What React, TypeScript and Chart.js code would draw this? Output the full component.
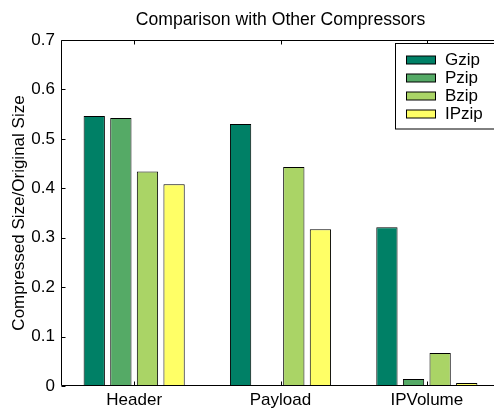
import React, { useEffect, useRef } from "react";
import { Chart, registerables } from "chart.js";

Chart.register(...registerables);

// Data
const categories = ["Header", "Payload", "IPVolume"];
const seriesNames = ["Gzip", "Pzip", "Bzip", "IPzip"];
const gzipValues = [0.546, 0.53, 0.321];
const pzipValues = [0.542, 0.002, 0.014];
const bzipValues = [0.434, 0.443, 0.067];
const ipzipValues = [0.408, 0.317, 0.006];
const seriesColors = ["#008066", "#55AA66", "#AAD466", "#FFFF66"];
const yMin = 0;
const yMax = 0.7;
const yStep = 0.1;

const titleText = "Comparison with Other Compressors";
const yLabelText = "Compressed Size/Original Size";
const FONT = '"Liberation Sans", Arial, Helvetica, sans-serif';
const FONT_SIZE = 17;
const TITLE_SIZE = 17.6;

// Draws the axes box with inward ticks, the title, the y-axis label and the legend.
const framePlugin = {
  id: "frame",
  afterDraw(chart: any) {
    const { ctx, chartArea: a, scales } = chart;
    const xs = scales.x;
    const ys = scales.y;
    ctx.save();
    ctx.strokeStyle = "#000";
    ctx.lineWidth = 1;
    const L = Math.round(a.left) + 0.5;
    const R = Math.round(a.right) - 0.5;
    const T = Math.round(a.top) + 0.5;
    const B = Math.round(a.bottom) - 0.5;
    ctx.beginPath();
    ctx.rect(L, T, R - L, B - T);
    ys.ticks.forEach((t: any) => {
      const py = Math.round(ys.getPixelForValue(t.value)) + 0.5;
      ctx.moveTo(L, py);
      ctx.lineTo(L + 4, py);
      ctx.moveTo(R, py);
      ctx.lineTo(R - 4, py);
    });
    categories.forEach((_, i) => {
      const px = Math.round(xs.getPixelForValue(i)) + 0.5;
      ctx.moveTo(px, B);
      ctx.lineTo(px, B - 4);
      ctx.moveTo(px, T);
      ctx.lineTo(px, T + 4);
    });
    ctx.stroke();

    ctx.fillStyle = "#000";

    // title
    ctx.font = `${TITLE_SIZE}px ${FONT}`;
    ctx.textAlign = "center";
    ctx.textBaseline = "alphabetic";
    ctx.fillText(titleText, (a.left + a.right) / 2, 25);

    // y-axis label
    ctx.font = `${FONT_SIZE}px ${FONT}`;
    ctx.save();
    ctx.translate(24, (a.top + a.bottom) / 2);
    ctx.rotate(-Math.PI / 2);
    ctx.textAlign = "center";
    ctx.textBaseline = "alphabetic";
    ctx.fillText(yLabelText, 0, 0);
    ctx.restore();

    // legend
    const boxLeft = 395.5;
    const boxTop = 43.5;
    const rowStart = 60;
    const rowGap = 18;
    const rows = chart.data.datasets.length;
    const boxHeight = rowStart - boxTop + (rows - 1) * rowGap + 15;
    ctx.fillStyle = "#fff";
    ctx.fillRect(boxLeft, boxTop, 200, boxHeight);
    ctx.strokeRect(boxLeft, boxTop, 200, boxHeight);
    chart.data.datasets.forEach((ds: any, i: number) => {
      const cy = rowStart + i * rowGap;
      ctx.fillStyle = ds.backgroundColor;
      ctx.fillRect(406.5, cy - 4, 29, 8);
      ctx.strokeRect(406.5, cy - 4, 29, 8);
      ctx.fillStyle = "#000";
      ctx.textAlign = "left";
      ctx.textBaseline = "middle";
      ctx.fillText(ds.label, 445, cy);
    });
    ctx.restore();
  },
};

export default function App() {
  const canvasRef = useRef<HTMLCanvasElement | null>(null);

  useEffect(() => {
    if (!canvasRef.current) return;
    const seriesValues = [gzipValues, pzipValues, bzipValues, ipzipValues];
    const chart = new Chart(canvasRef.current, {
      type: "bar",
      data: {
        labels: categories,
        datasets: seriesNames.map((name, i) => ({
          label: name,
          data: seriesValues[i],
          backgroundColor: seriesColors[i],
          borderColor: "#000",
          borderWidth: 1,
          borderSkipped: false,
          categoryPercentage: 0.7273,
          barPercentage: 0.8,
        })),
      },
      options: {
        responsive: false,
        maintainAspectRatio: false,
        animation: false,
        layout: { padding: { top: 40, left: 0, right: 0, bottom: 0 } },
        plugins: {
          legend: { display: false },
          title: { display: false },
          tooltip: { enabled: false },
        },
        scales: {
          x: {
            grid: { display: false, drawTicks: false },
            border: { display: false },
            ticks: {
              color: "#000",
              font: { family: FONT, size: FONT_SIZE },
              padding: 4,
              maxRotation: 0,
              autoSkip: false,
            },
            afterFit: (s: any) => {
              s.height = 22;
            },
          },
          y: {
            min: yMin,
            max: yMax,
            grid: { display: false, drawTicks: false },
            border: { display: false },
            ticks: {
              stepSize: yStep,
              color: "#000",
              font: { family: FONT, size: FONT_SIZE },
              padding: 6,
              callback: (v: any) => (Number(v) === 0 ? "0" : Number(v).toFixed(1)),
            },
            afterFit: (s: any) => {
              s.width = 61;
            },
          },
        },
      },
      plugins: [framePlugin],
    });
    return () => chart.destroy();
  }, []);

  return (
    <div
      style={{
        position: "fixed",
        left: 0,
        top: 0,
        width: 494,
        height: 408,
        overflow: "hidden",
        background: "#fff",
      }}
    >
      <canvas ref={canvasRef} width={500} height={408} style={{ display: "block", width: 500, height: 408 }} />
    </div>
  );
}
